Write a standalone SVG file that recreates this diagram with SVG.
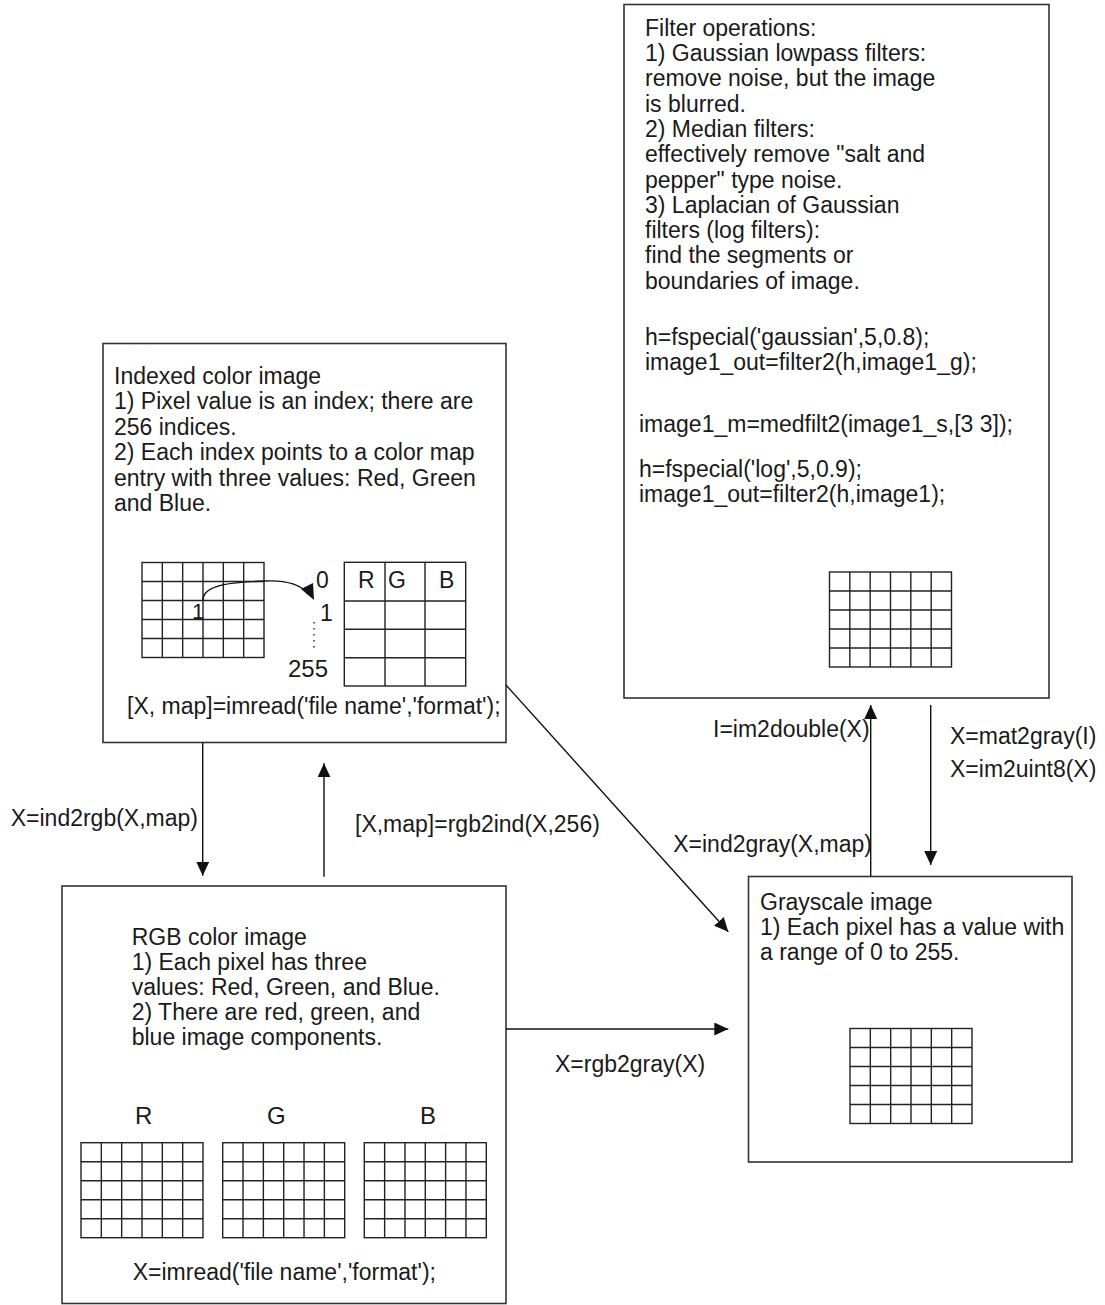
<svg xmlns="http://www.w3.org/2000/svg" xmlns:xlink="http://www.w3.org/1999/xlink" width="1105" height="1305" viewBox="0 0 1105 1305">
<style>
text{font-family:"Liberation Sans",Arial,sans-serif;font-size:23px;fill:#1a1a1a}
.box{fill:#fff;stroke:#333;stroke-width:1.6}
.gl{fill:none;stroke:#222;stroke-width:1.4}
.con{fill:none;stroke:#111;stroke-width:1.4}
</style>
<defs>
<marker id="ah" markerUnits="userSpaceOnUse" markerWidth="15" markerHeight="13" refX="14" refY="6.5" orient="auto">
<path d="M0,0 L14,6.5 L0,13 Z" fill="#111"/>
</marker>
<g id="grid" class="gl">
<rect x="0" y="0" width="122" height="95"/>
<path d="M20.33,0V95M40.67,0V95M61,0V95M81.33,0V95M101.67,0V95M0,19H122M0,38H122M0,57H122M0,76H122"/>
</g>
</defs>
<rect width="1105" height="1305" fill="#fff"/>

<g id="filter">
<rect class="box" x="624" y="4.5" width="425" height="693.5"/>
<text x="645" y="35.7">Filter operations:</text>
<text x="645" y="61">1) Gaussian lowpass filters:</text>
<text x="645" y="86.3">remove noise, but the image</text>
<text x="645" y="111.6">is blurred.</text>
<text x="645" y="136.9">2) Median filters:</text>
<text x="645" y="162.2">effectively remove "salt and</text>
<text x="645" y="187.5">pepper" type noise.</text>
<text x="645" y="212.8">3) Laplacian of Gaussian</text>
<text x="645" y="238.1">filters (log filters):</text>
<text x="645" y="263.4">find the segments or</text>
<text x="645" y="288.7">boundaries of image.</text>
<text x="645" y="345">h=fspecial('gaussian',5,0.8);</text>
<text x="645" y="370">image1_out=filter2(h,image1_g);</text>
<text x="639" y="431.7">image1_m=medfilt2(image1_s,[3 3]);</text>
<text x="639" y="476.7">h=fspecial('log',5,0.9);</text>
<text x="639" y="501.7">image1_out=filter2(h,image1);</text>
<use xlink:href="#grid" href="#grid" x="829.5" y="572"/>
</g>

<g id="indexed">
<rect class="box" x="103" y="343.5" width="403" height="399"/>
<text x="114" y="384">Indexed color image</text>
<text x="114" y="409.4">1) Pixel value is an index; there are</text>
<text x="114" y="434.8">256 indices.</text>
<text x="114" y="460.2">2) Each index points to a color map</text>
<text x="114" y="485.6">entry with three values: Red, Green</text>
<text x="114" y="511">and Blue.</text>
<use xlink:href="#grid" href="#grid" x="142" y="562.5"/>
<text x="192" y="619" style="font-size:22px">1</text>
<path class="con" d="M203,600 C203,584 235,582 265,581 C290,580 302,586 308,594"/>
<path d="M314,600 L301,589 L313,583 Z" fill="#111"/>
<text x="316" y="588">0</text>
<text x="320" y="621">1</text>
<path d="M314,622V649" stroke="#333" stroke-width="1.5" stroke-dasharray="1.5,4.5" fill="none"/>
<text x="288" y="677" style="font-size:24px">255</text>
<g class="gl">
<rect x="344.3" y="562.3" width="121.4" height="123.7"/>
<path d="M385,562.3V686M425,562.3V686M344.3,601H465.7M344.3,629.3H465.7M344.3,657.7H465.7"/>
</g>
<text x="358" y="588">R</text>
<text x="388" y="588">G</text>
<text x="439" y="588">B</text>
<text x="127" y="714">[X, map]=imread('file name','format');</text>
</g>

<g id="rgb">
<rect class="box" x="62" y="886" width="444" height="417.5"/>
<text x="131.7" y="945">RGB color image</text>
<text x="131.7" y="970">1) Each pixel has three</text>
<text x="131.7" y="995">values: Red, Green, and Blue.</text>
<text x="131.7" y="1020">2) There are red, green, and</text>
<text x="131.7" y="1045">blue image components.</text>
<text x="135" y="1124" style="font-size:24px">R</text>
<text x="267" y="1124" style="font-size:24px">G</text>
<text x="420" y="1124" style="font-size:24px">B</text>
<use xlink:href="#grid" href="#grid" x="81" y="1142.7"/>
<use xlink:href="#grid" href="#grid" x="222.7" y="1142.7"/>
<use xlink:href="#grid" href="#grid" x="364.3" y="1142.7"/>
<text x="132.7" y="1280">X=imread('file name','format');</text>
</g>

<g id="gray">
<rect class="box" x="748.5" y="876.5" width="323.5" height="285.5"/>
<text x="760" y="910">Grayscale image</text>
<text x="760" y="935">1) Each pixel has a value with</text>
<text x="760" y="960">a range of 0 to 255.</text>
<use xlink:href="#grid" href="#grid" x="850" y="1028.5"/>
</g>

<g id="connectors">
<path class="con" d="M202.7,742.7V875.7" marker-end="url(#ah)"/>
<path class="con" d="M324,876.7V763.3" marker-end="url(#ah)"/>
<path class="con" d="M506,685L728.3,931.7" marker-end="url(#ah)"/>
<path class="con" d="M506,1029H728.3" marker-end="url(#ah)"/>
<path class="con" d="M870.7,876.5V705" marker-end="url(#ah)"/>
<path class="con" d="M930.7,705V865" marker-end="url(#ah)"/>
<text x="198" y="826" text-anchor="end">X=ind2rgb(X,map)</text>
<text x="355" y="832">[X,map]=rgb2ind(X,256)</text>
<text x="872" y="852" text-anchor="end">X=ind2gray(X,map)</text>
<text x="713" y="737">I=im2double(X)</text>
<text x="950" y="744">X=mat2gray(I)</text>
<text x="950" y="777">X=im2uint8(X)</text>
<text x="555" y="1072">X=rgb2gray(X)</text>
</g>
</svg>
